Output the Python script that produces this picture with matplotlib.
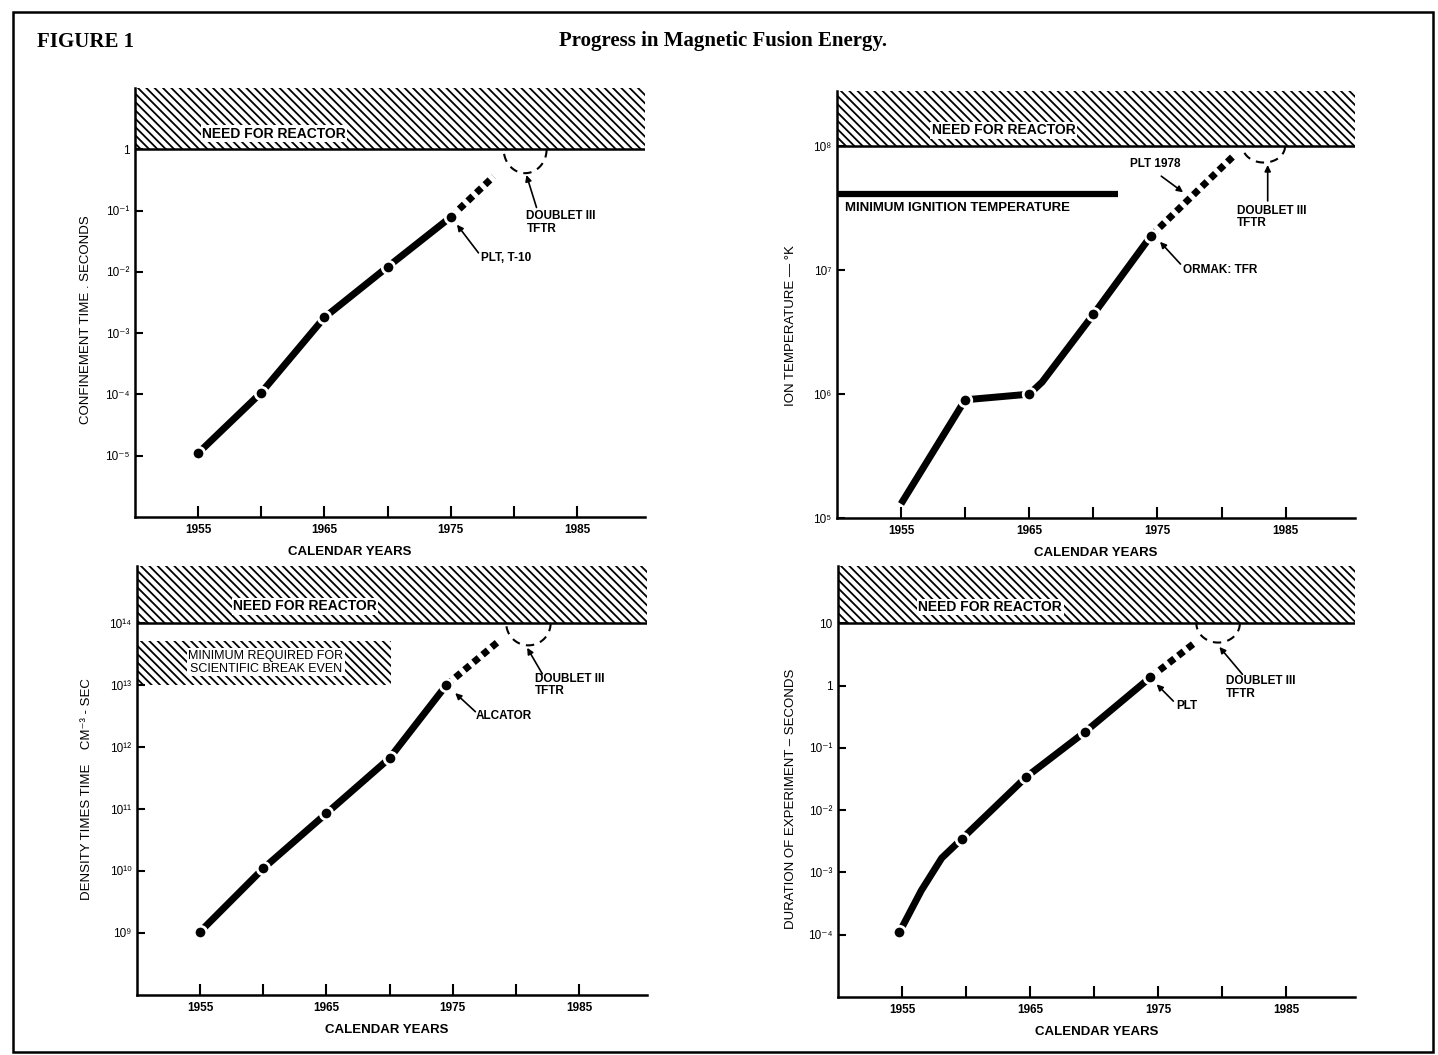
import numpy as np
import matplotlib.pyplot as plt
from matplotlib.patches import Rectangle

plt.rcParams['font.family'] = ['Liberation Sans', 'DejaVu Sans']
plt.rcParams['hatch.linewidth'] = 1.3

# shared x axis: calendar years
x_min, x_max = 1950, 1990.4
year_ticks = [1955, 1960, 1965, 1970, 1975, 1980, 1985]
year_labels = ['1955', '', '1965', '', '1975', '', '1985']

# a) confinement time, seconds
conf_years = [1955, 1960, 1965, 1970, 1975]
conf_values = [1.1e-5, 1.07e-4, 1.8e-3, 1.2e-2, 7.8e-2]
conf_proj_years = [1975, 1978.4]
conf_proj_values = [7.8e-2, 0.36]
conf_ticks = [1e-5, 1e-4, 1e-3, 1e-2, 1e-1, 1]
conf_tick_labels = ['10⁻⁵', '10⁻⁴', '10⁻³', '10⁻²', '10⁻¹', '1']

# b) ion temperature, K
temp_years = [1955, 1960, 1965, 1966, 1970, 1974.5]
temp_values = [1.3e5, 9.0e5, 1.0e6, 1.25e6, 4.4e6, 1.9e7]
temp_dots = [1, 2, 4, 5]
temp_proj_years = [1974.5, 1981]
temp_proj_values = [1.9e7, 8.5e7]
temp_ticks = [1e5, 1e6, 1e7, 1e8]
temp_tick_labels = ['10⁵', '10⁶', '10⁷', '10⁸']
ignition_temp = 4.1e7
ignition_end = 1971.9

# c) density times time, cm^-3 sec
nt_years = [1955, 1960, 1965, 1970, 1974.5]
nt_values = [1.05e9, 1.1e10, 8.5e10, 6.6e11, 1.0e13]
nt_proj_years = [1974.5, 1978.6]
nt_proj_values = [1.0e13, 5.0e13]
nt_ticks = [1e9, 1e10, 1e11, 1e12, 1e13, 1e14]
nt_tick_labels = ['10⁹', '10¹⁰', '10¹¹', '10¹²', '10¹³', '10¹⁴']
breakeven_low, breakeven_high, breakeven_end = 1.0e13, 5.2e13, 1970.1

# d) duration of experiment, seconds
dur_years = [1954.8, 1956.5, 1958.1, 1959.7, 1964.7, 1969.3, 1974.4]
dur_values = [1.1e-4, 5.1e-4, 1.7e-3, 3.5e-3, 3.4e-2, 0.18, 1.35]
dur_dots = [0, 3, 4, 5, 6]
dur_proj_years = [1974.4, 1977.9]
dur_proj_values = [1.35, 4.9]
dur_ticks = [1e-4, 1e-3, 1e-2, 1e-1, 1, 10]
dur_tick_labels = ['10⁻⁴', '10⁻³', '10⁻²', '10⁻¹', '1', '10']

HATCH = '\\\\\\\\'

fig = plt.figure(figsize=(14.38, 10.55), dpi=100)


def setup(ax, ylim, threshold, ticks, labels, ylabel, ylabel_pos, xlabel_x):
    ax.set_yscale('log')
    ax.set_xlim(x_min, x_max)
    ax.set_ylim(*ylim)
    for s in ['top', 'right']:
        ax.spines[s].set_visible(False)
    for s in ['left', 'bottom']:
        ax.spines[s].set_linewidth(1.8)
    ax.set_xticks(year_ticks)
    ax.set_xticklabels(year_labels, fontsize=8.5, fontweight='bold')
    ax.set_yticks(ticks)
    ax.set_yticklabels(labels, fontsize=8.5)
    ax.yaxis.set_minor_locator(plt.NullLocator())
    ax.tick_params(axis='x', direction='in', length=8, width=1.5, pad=5)
    ax.tick_params(axis='y', direction='in', length=6, width=1.5, pad=4)
    ax.axhspan(threshold, ylim[1], facecolor='white', edgecolor='black',
               hatch=HATCH, lw=0, zorder=0)
    ax.axhline(threshold, color='black', lw=1.8)
    ax.set_xlabel('CALENDAR YEARS', fontsize=9.5, fontweight='bold')
    ax.xaxis.set_label_coords(xlabel_x, -0.068)
    ax.set_ylabel(ylabel, fontsize=9.5)
    ax.yaxis.set_label_coords(*ylabel_pos)


def need_label(ax, x, y):
    ax.text(x, y, 'NEED FOR REACTOR', fontsize=10, fontweight='bold',
            ha='center', va='center',
            bbox=dict(facecolor='white', edgecolor='none', pad=1))


def trend(ax, xs, ys, dots, px, py):
    ax.plot(xs, ys, color='black', lw=5, solid_capstyle='butt', zorder=3)
    ax.plot([xs[i] for i in dots], [ys[i] for i in dots], 'o', ms=9,
            mfc='black', mec='white', mew=2, zorder=4)
    ax.plot(px, py, color='black', lw=5, linestyle=(0, (1.0, 0.7)),
            dash_capstyle='butt', zorder=3)


def future(ax, cx, r, depth, threshold, text_xy, tail, head):
    t = np.linspace(0, np.pi, 50)
    ax.plot(cx + r * np.cos(t), threshold * 10 ** (-depth * np.sin(t)),
            color='black', lw=1.5, linestyle=(0, (4, 3)), zorder=3)
    ax.text(*text_xy, 'DOUBLET III\nTFTR', fontsize=8.5, fontweight='bold',
            ha='left', va='center', linespacing=1.1)
    arrow(ax, tail, head)


def arrow(ax, tail, head):
    ax.annotate('', xy=head, xytext=tail,
                arrowprops=dict(arrowstyle='-|>', lw=1.2, color='black',
                                mutation_scale=9, shrinkA=0, shrinkB=0))


# panel a
ax1 = fig.add_axes([0.0939, 0.51, 0.3547, 0.4066])
setup(ax1, (1e-6, 10), 1, conf_ticks, conf_tick_labels,
      'CONFINEMENT TIME . SECONDS', (-0.084, 0.46), 0.42)
need_label(ax1, 1961.0, 1.8)
trend(ax1, conf_years, conf_values, range(len(conf_years)),
      conf_proj_years, conf_proj_values)
future(ax1, 1980.9, 1.7, 0.39, 1, (1981.0, 10 ** -1.2),
       (1981.8, 10 ** -0.95), (1981.0, 10 ** -0.42))
ax1.text(1977.4, 10 ** -1.78, 'PLT, T-10', fontsize=8.5, fontweight='bold',
         va='center')
arrow(ax1, (1977.2, 10 ** -1.69), (1975.5, 10 ** -1.23))

# panel b
ax2 = fig.add_axes([0.582, 0.509, 0.3602, 0.4047])
setup(ax2, (1e5, 2.8e8), 1e8, temp_ticks, temp_tick_labels,
      'ION TEMPERATURE — °K', (-0.077, 0.45), 0.5)
need_label(ax2, 1963.0, 10 ** 8.13)
ax2.plot([x_min, ignition_end], [ignition_temp, ignition_temp],
         color='black', lw=4.5, solid_capstyle='butt')
ax2.text(1950.6, 10 ** 7.5, 'MINIMUM IGNITION TEMPERATURE', fontsize=9.5,
         fontweight='bold', va='center')
trend(ax2, temp_years, temp_values, temp_dots,
      temp_proj_years, temp_proj_values)
future(ax2, 1983.3, 1.65, 0.13, 1e8, (1981.2, 10 ** 7.43),
       (1983.6, 10 ** 7.56), (1983.6, 10 ** 7.85))
ax2.text(1974.8, 10 ** 7.86, 'PLT 1978', fontsize=8.5, fontweight='bold',
         ha='center', va='center')
arrow(ax2, (1975.3, 10 ** 7.76), (1977.0, 10 ** 7.63))
ax2.text(1977.0, 1e7, 'ORMAK: TFR', fontsize=8.5, fontweight='bold',
         va='center')
arrow(ax2, (1976.8, 10 ** 7.05), (1975.2, 10 ** 7.23))

# panel c
ax3 = fig.add_axes([0.0953, 0.0569, 0.3547, 0.4066])
setup(ax3, (1e8, 10 ** 14.92), 1e14, nt_ticks, nt_tick_labels,
      'DENSITY TIMES TIME    CM⁻³ - SEC', (-0.087, 0.48), 0.49)
need_label(ax3, 1963.3, 10 ** 14.27)
ax3.fill_between([x_min, breakeven_end], breakeven_low, breakeven_high,
                 facecolor='white', edgecolor='black', hatch=HATCH, lw=0,
                 zorder=0)
ax3.text(1960.2, 10 ** 13.37, 'MINIMUM REQUIRED FOR\nSCIENTIFIC BREAK EVEN',
         fontsize=9, ha='center', va='center', linespacing=1.1,
         bbox=dict(facecolor='white', edgecolor='none', pad=1))
trend(ax3, nt_years, nt_values, range(len(nt_years)),
      nt_proj_years, nt_proj_values)
future(ax3, 1981.0, 1.76, 0.36, 1e14, (1981.5, 1e13),
       (1982.1, 10 ** 13.18), (1980.9, 10 ** 13.6))
ax3.text(1976.8, 10 ** 12.5, 'ALCATOR', fontsize=8.5, fontweight='bold',
         va='center')
arrow(ax3, (1976.8, 10 ** 12.57), (1975.2, 10 ** 12.87))

# panel d
ax4 = fig.add_axes([0.5828, 0.055, 0.3595, 0.4085])
setup(ax4, (1e-5, 83), 10, dur_ticks, dur_tick_labels,
      'DURATION OF EXPERIMENT – SECONDS', (-0.08, 0.46), 0.5)
need_label(ax4, 1961.9, 10 ** 1.26)
trend(ax4, dur_years, dur_values, dur_dots, dur_proj_years, dur_proj_values)
future(ax4, 1979.7, 1.7, 0.31, 10, (1980.3, 10 ** -0.03),
       (1981.6, 10 ** 0.18), (1979.8, 10 ** 0.62))
ax4.text(1976.4, 10 ** -0.33, 'PLT', fontsize=8.5, fontweight='bold',
         va='center')
arrow(ax4, (1976.2, 10 ** -0.25), (1974.9, 10 ** 0.02))

# heading and frame
fig.text(37 / 1438, 1 - 42 / 1055, 'FIGURE 1', fontsize=15, fontweight='bold',
         family='Liberation Serif', va='center')
fig.text(723 / 1438, 1 - 41 / 1055, 'Progress in Magnetic Fusion Energy.',
         fontsize=15, fontweight='bold', family='Liberation Serif',
         ha='center', va='center')
fig.add_artist(Rectangle((13 / 1438, 3 / 1055), 1420 / 1438, 1040 / 1055,
                         transform=fig.transFigure, fill=False,
                         edgecolor='black', lw=1.8))

fig.savefig('out.png', dpi=100)
